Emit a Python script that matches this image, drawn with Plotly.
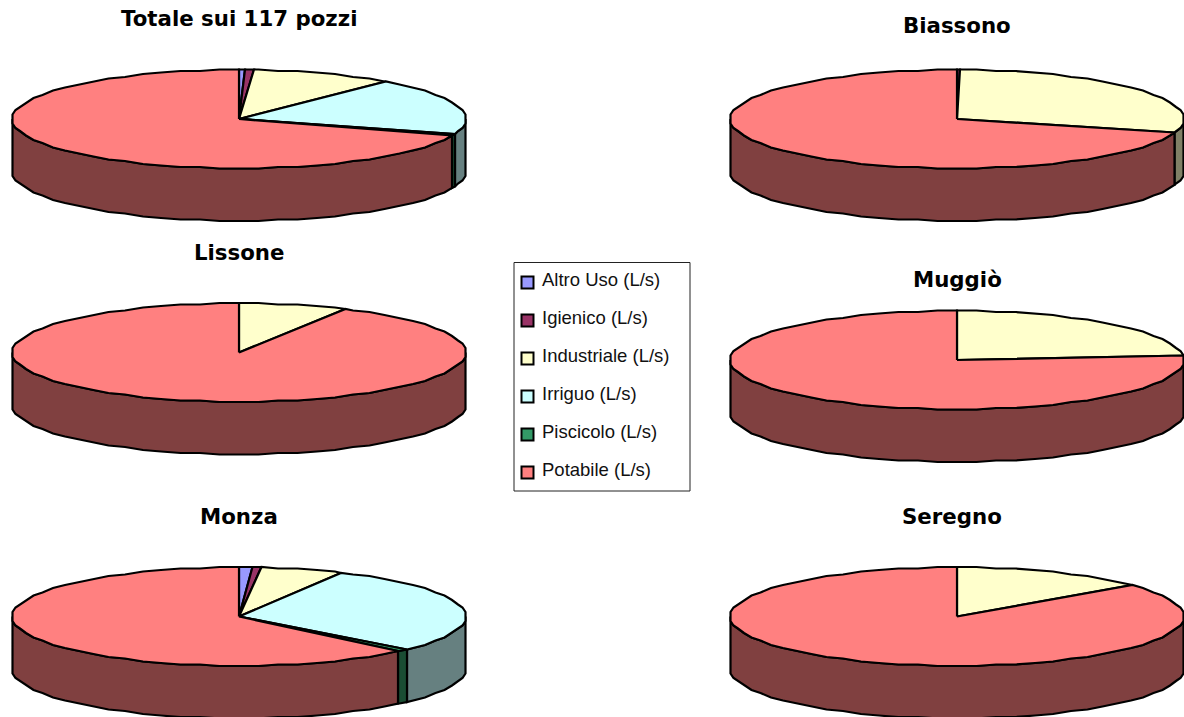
import math
import plotly.graph_objects as go

# Chart contents (share of each use per pie, %)
pies = ["Totale sui 117 pozzi", "Biassono", "Lissone", "Muggiò", "Monza", "Seregno"]
series = ["Altro Uso (L/s)", "Igienico (L/s)", "Industriale (L/s)", "Irriguo (L/s)", "Piscicolo (L/s)", "Potabile (L/s)"]
altro_uso = [0.45, 0.0, 0.0, 0.0, 0.9, 0.0]
igienico = [0.65, 0.2, 0.0, 0.0, 0.7, 0.0]
industriale = [10.1, 29.4, 7.8, 23.7, 5.85, 14.1]
irriguo = [18.7, 0.0, 0.0, 0.0, 29.35, 0.0]
piscicolo = [0.8, 0.0, 0.0, 0.0, 0.8, 0.0]
potabile = [69.3, 70.4, 92.2, 76.3, 62.4, 85.9]
values = [altro_uso, igienico, industriale, irriguo, piscicolo, potabile]

top_colors = ["#9999FF", "#993366", "#FFFFCC", "#CCFFFF", "#339966", "#FF8080"]
side_colors = ["#4D4D80", "#4D1A33", "#808066", "#668080", "#1A4D33", "#804040"]

centers = [(239, 119), (957, 119), (239, 352.5), (957, 360), (239, 616.5), (957, 616.5)]
title_pos = [(239, 18), (957, 25), (239, 252), (957, 279), (239, 516), (952, 516)]
RX, RY, DEPTH, STEP, SNAP = 227, 49, 52.5, 5, 1.5

fig = go.Figure()


def arc(cx, cy, a, b):
    # the outline is drawn as a coarse polygon snapped to a grid, like the reference's metafile rim
    knots = sorted({a, b} | {k * STEP for k in range(int(a // STEP) + 1, int(math.ceil(b / STEP)))})
    xs, ys = [], []
    for d in knots:
        t = math.radians(d)
        xs.append(cx + round(RX * math.sin(t) / SNAP) * SNAP)
        ys.append(cy - round(RY * math.cos(t) / SNAP) * SNAP)
    return xs, ys


def poly(xs, ys, color):
    fig.add_trace(go.Scatter(x=xs, y=ys, mode="lines", fill="toself", fillcolor=color,
                             line=dict(color="black", width=2.2), hoverinfo="skip",
                             showlegend=False))


for p, (cx, cy) in enumerate(centers):
    total = sum(v[p] for v in values)
    spans = []
    start = 0.0
    for s, v in enumerate(values):
        end = start + v[p] / total * 360
        if v[p] > 0:
            spans.append((s, start, end))
        start = end
    for s, a, b in spans:
        a2, b2 = max(a, 90), min(b, 270)
        if b2 > a2:
            xt, yt = arc(cx, cy, a2, b2)
            xb, yb = arc(cx, cy + DEPTH, a2, b2)
            poly(xt + xb[::-1] + [xt[0]], yt + yb[::-1] + [yt[0]], side_colors[s])
    for s, a, b in spans:
        xt, yt = arc(cx, cy, a, b)
        poly([cx] + xt + [cx], [cy] + yt + [cy], top_colors[s])

# Legend: box, swatches and labels
LEG_L, LEG_R, LEG_T, LEG_B = 514, 690, 262.5, 491
fig.add_shape(type="rect", x0=LEG_L, x1=LEG_R, y0=LEG_T, y1=LEG_B,
              line=dict(color="#222222", width=1), fillcolor="white", layer="below")
for s, name in enumerate(series):
    fig.add_trace(go.Scatter(x=[527.5], y=[282.5 + 38 * s], mode="markers", name=name,
                             marker=dict(symbol="square", size=12, color=top_colors[s],
                                         line=dict(color="black", width=2)),
                             hoverinfo="name", showlegend=False))
    fig.add_annotation(x=542, y=279 + 38 * s, text=name, showarrow=False, xanchor="left", yanchor="middle",
                       xshift=-2, font=dict(family="Liberation Sans", size=18.5, color="#111111"))

for name, (x, y) in zip(pies, title_pos):
    fig.add_annotation(x=x, y=y, text=f"<b>{name}</b>", showarrow=False, xanchor="center", yanchor="middle",
                       font=dict(family="DejaVu Sans", size=21.3, color="black"))

fig.update_layout(
    width=1184, height=717, margin=dict(l=0, r=0, t=0, b=0, pad=0, autoexpand=False),
    paper_bgcolor="white", plot_bgcolor="white", autosize=False, showlegend=False,
    xaxis=dict(range=[0, 1184], visible=False, fixedrange=True),
    yaxis=dict(range=[717, 0], visible=False, fixedrange=True),
)
fig.write_html("out.html", config={"displayModeBar": False},
               post_script="document.body.style.margin='0';document.body.style.overflow='hidden';")
